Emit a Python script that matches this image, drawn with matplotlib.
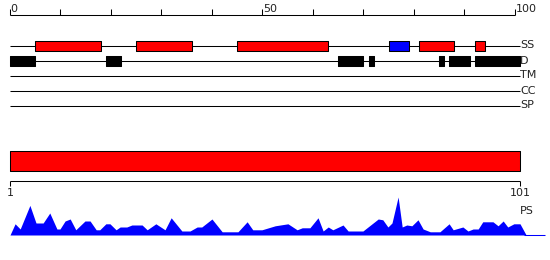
import matplotlib
matplotlib.use("Agg")
import matplotlib.pyplot as plt

# sequence / feature data
seq_len = 101
track_names = ["SS", "D", "TM", "CC", "SP"]

helix = [(5, 18), (25, 36), (45, 63), (81, 88), (92, 94)]
strand = [(75, 79)]
disorder = [(0, 5), (19, 22), (65, 70), (71, 72), (85, 86), (87, 91), (92, 101)]

top_ticks = list(range(0, 101, 10))
top_labels = {0: "0", 50: "50", 100: "100"}

domain = [(1, 101)]
bottom_ticks = [1, 101]

ps_pos = [1.0, 2.0, 3.0, 4.9, 6.1, 7.5, 8.8, 10.2, 10.8, 11.8,
          12.8, 13.9, 15.7, 16.7, 17.9, 18.6, 19.8, 20.6, 21.8, 22.6,
          23.9, 24.9, 26.9, 27.9, 29.6, 31.4, 32.6, 34.7, 36.3, 37.7,
          38.6, 40.6, 42.6, 45.7, 47.5, 48.6, 50.4, 53.0, 55.5, 57.3,
          58.3, 59.8, 61.4, 62.4, 63.4, 64.3, 66.3, 67.3, 70.2, 73.2,
          74.1, 75.1, 75.9, 77.1, 77.9, 78.8, 79.8, 81.0, 82.0, 83.4,
          85.3, 87.1, 87.9, 89.8, 90.8, 91.8, 92.8, 93.7, 95.7, 96.7,
          97.7, 98.6, 99.8, 101.0, 102.2]
ps_score = [0, 0.28, 0.15, 0.74, 0.3, 0.3, 0.55, 0.15, 0.15, 0.35,
            0.4, 0.13, 0.35, 0.35, 0.13, 0.13, 0.28, 0.28, 0.13, 0.2,
            0.2, 0.25, 0.25, 0.13, 0.28, 0.13, 0.43, 0.1, 0.1, 0.2,
            0.2, 0.4, 0.08, 0.08, 0.33, 0.13, 0.13, 0.23, 0.28, 0.13,
            0.18, 0.18, 0.43, 0.1, 0.2, 0.13, 0.25, 0.1, 0.1, 0.4,
            0.38, 0.2, 0.3, 0.95, 0.2, 0.25, 0.23, 0.38, 0.15, 0.08,
            0.08, 0.28, 0.13, 0.2, 0.1, 0.15, 0.15, 0.33, 0.33, 0.23,
            0.35, 0.2, 0.28, 0.28, 0]

W, H = 550, 260
txt = "#222222"
fs = 8
lw = 0.75

fig = plt.figure(figsize=(W / 100, H / 100), dpi=100)

# top panel: x in sequence units (0 at 10px, 101 at 520px), y in pixel rows
ax = fig.add_axes([0, 0, 1, 1])
ppu = 510 / seq_len
ax.set_xlim(-10 / ppu, (W - 10) / ppu)
ax.set_ylim(H, 0)
ax.axis("off")

# ruler
ax.hlines(14.5, top_ticks[0], top_ticks[-1], color="black", lw=lw)
for t in top_ticks:
    ax.vlines(t, 9, 14.5, color="black", lw=lw)
    if t in top_labels:
        ax.text(t + 0.1, 12.5, top_labels[t], ha="left", va="baseline",
                fontsize=fs, color=txt)

# tracks
rows = {}
for i, name in enumerate(track_names):
    y = 45.5 + 15 * i
    rows[name] = y
    ax.hlines(y, 0, seq_len, color="black", lw=lw)
    ax.text(seq_len, y, name, ha="left", va="center", fontsize=fs, color=txt)

def boxes(segs, y, color):
    ax.broken_barh([(s, e - s) for s, e in segs], (y - 5, 10),
                   facecolors=color, edgecolors="black", linewidth=lw, zorder=3)

boxes(helix, rows["SS"], "#ff0000")
boxes(strand, rows["SS"], "#0000ff")
boxes(disorder, rows["D"], "black")

# bottom panel: residue scale (1 at 10px, 101 at 520px)
ax2 = fig.add_axes([0, 0, 1, 1])
ax2.patch.set_alpha(0)
ppr = 510 / (bottom_ticks[-1] - bottom_ticks[0])
ax2.set_xlim(bottom_ticks[0] - 10 / ppr, bottom_ticks[0] + (W - 10) / ppr)
ax2.set_ylim(H, 0)
ax2.axis("off")

ax2.broken_barh([(s, e - s) for s, e in domain], (150.5, 20),
                facecolors="#ff0000", edgecolors="black", linewidth=lw)
ax2.hlines(180.5, bottom_ticks[0], bottom_ticks[-1], color="black", lw=lw)
for t in bottom_ticks:
    ax2.vlines(t, 180.5, 186, color="black", lw=lw)
    ax2.text(t, 188, str(t), ha="center", va="top", fontsize=fs, color=txt)
ax2.text(bottom_ticks[-1], 211, "PS", ha="left", va="center", fontsize=fs, color=txt)

# PS profile
ax3 = fig.add_axes([0, 25 / H, 1, 40 / H])
ax3.patch.set_alpha(0)
ax3.set_xlim(ax2.get_xlim())
ax3.set_ylim(0, 1)
ax3.axis("off")
ax3.fill_between(ps_pos, ps_score, 0, color="#0000ff", lw=0)
ax3.hlines(0.5 / 40, ps_pos[-1] - 0.5, ps_pos[-1] + 3.8, color="#0000ff",
           lw=0.75, clip_on=False)

fig.savefig("out.png", dpi=100)
